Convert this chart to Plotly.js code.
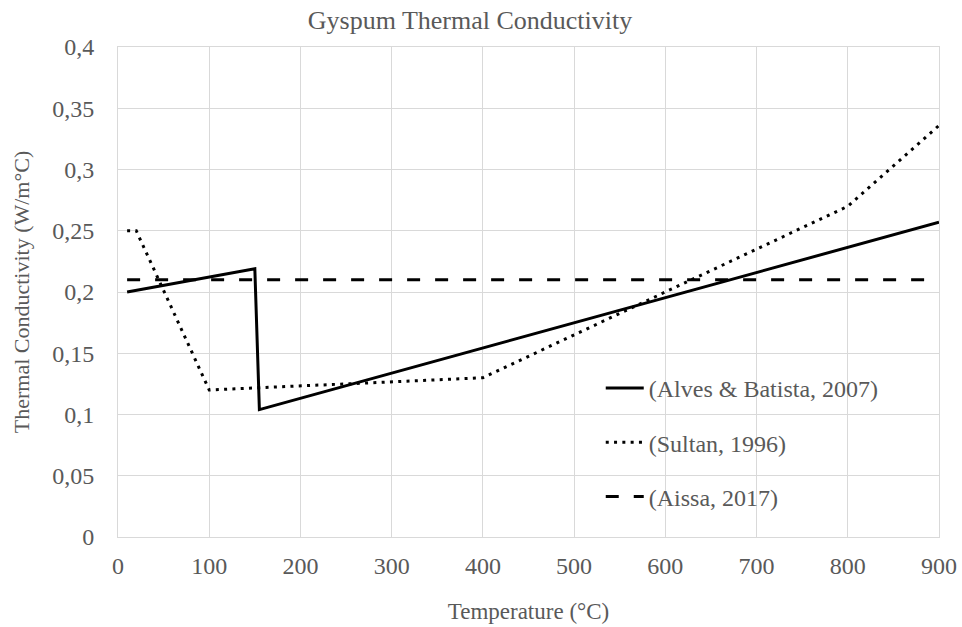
<!DOCTYPE html>
<html>
<head>
<meta charset="utf-8">
<script src="https://cdn.plot.ly/plotly-3.0.1.min.js"></script>
<style>html,body{margin:0;padding:0;background:#fff;}#chart{width:962px;height:627px;}</style>
</head>
<body>
<div id="chart"></div>
<script>
// Data
const alvesT = [10, 150, 155, 900];
const alvesK = [0.2, 0.219, 0.104, 0.257];

const sultanT = [10, 20, 100, 400, 800, 900];
const sultanK = [0.25, 0.25, 0.12, 0.13, 0.27, 0.336];

const aissaT = [10, 900];
const aissaK = [0.21, 0.21];

const seriesNames = ["(Alves & Batista, 2007)", "(Sultan, 1996)", "(Aissa, 2017)"];

const FONT = "'Liberation Serif', 'Times New Roman', serif";
const TXT = "#595959";
const GRID = "#d9d9d9";

const traces = [
  {x: alvesT, y: alvesK, name: seriesNames[0], mode: "lines", legendgroup: "a",
   line: {color: "#000", width: 3, dash: "solid"}},
  {x: sultanT, y: sultanK, name: seriesNames[1], mode: "lines", legendgroup: "b",
   line: {color: "#000", width: 3, dash: "3px,5.3px"}},
  {x: aissaT, y: aissaK, name: seriesNames[2], mode: "lines", legendgroup: "c",
   line: {color: "#000", width: 3, dash: "13px,15px"}}
];

const layout = {
  width: 962, height: 627,
  paper_bgcolor: "#fff", plot_bgcolor: "#fff",
  separators: ", ",
  margin: {l: 118, r: 23, t: 47, b: 90, pad: 0},
  font: {family: FONT, color: TXT, size: 24},
  title: {text: "Gyspum Thermal Conductivity", font: {family: FONT, size: 26, color: TXT},
          x: 470 / 962, xref: "container", xanchor: "center", y: 1 - 20 / 627, yref: "container", yanchor: "middle"},
  xaxis: {
    range: [0, 900], dtick: 100, tick0: 0, showgrid: true, gridcolor: GRID, gridwidth: 1,
    zeroline: false, showline: true, mirror: true, linecolor: GRID, linewidth: 1,
    ticks: "", ticklabelstandoff: 7, tickfont: {family: FONT, size: 24, color: TXT},
    title: {text: "Temperature (°C)", font: {family: FONT, size: 23, color: TXT}, standoff: 25}
  },
  yaxis: {
    range: [0, 0.4], dtick: 0.05, tick0: 0, showgrid: true, gridcolor: GRID, gridwidth: 1,
    zeroline: false, showline: true, mirror: true, linecolor: GRID, linewidth: 1,
    ticks: "", ticklabelstandoff: 18, tickfont: {family: FONT, size: 24, color: TXT},
    title: {text: "Thermal Conductivity (W/m°C)", font: {family: FONT, size: 22, color: TXT}, standoff: 16}
  },
  showlegend: true,
  legend: {
    x: 0.588, y: 0.349, xanchor: "left", yanchor: "top", xref: "paper", yref: "paper",
    bgcolor: "rgba(0,0,0,0)", borderwidth: 0,
    font: {family: FONT, size: 24, color: TXT},
    traceorder: "grouped", tracegroupgap: 20, itemwidth: 38
  },
  shapes: [
    {type: "rect", xref: "paper", yref: "paper", x0: 0.536, x1: 0.985, y0: 0.010, y1: 0.368,
     fillcolor: "#fff", line: {width: 0}, layer: "between"}
  ]
};

Plotly.newPlot("chart", traces, layout, {displayModeBar: false, staticPlot: true});
</script>
</body>
</html>
